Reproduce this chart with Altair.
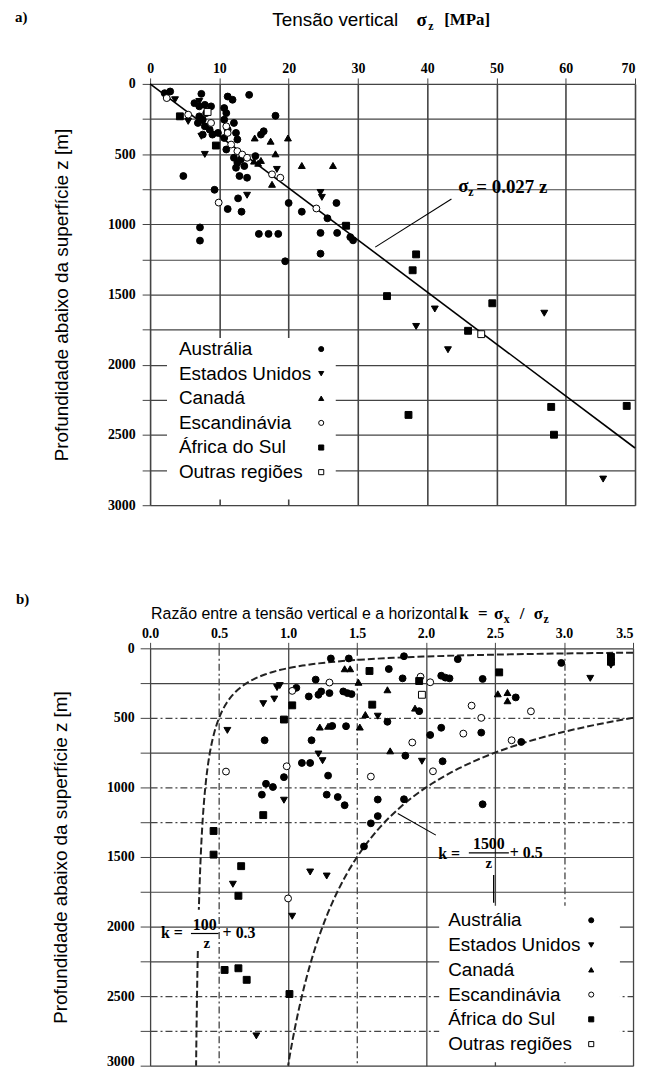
import numpy as np
import pandas as pd
import altair as alt

REGIONS = ["Austrália", "Estados Unidos", "Canadá", "Escandinávia", "África do Sul", "Outras regiões"]
SHAPES = ["circle", "triangle-down", "triangle-up", "circle", "square", "square"]
FILLS = ["black", "black", "black", "white", "black", "white"]

# ---------------- panel a: vertical stress sigma_z [MPa] vs depth z [m]
a_aus_s = [2.1, 2.9, 7.4, 11.2, 11.9, 14.3, 18.1, 6.4, 7.1, 7.9, 8.8, 8.1, 7.1, 7.6, 6.9, 7.9, 8.6,
           9.0, 7.6, 9.8, 10.7, 11.0, 10.7, 12.1, 11.2, 12.4, 10.7, 12.6, 11.0, 12.1, 13.1, 12.6, 12.4,
           13.6, 12.9, 14.0, 15.2, 16.4, 16.0, 4.8, 9.3, 12.7, 11.2, 13.2, 20.0, 21.9, 26.9, 25.6, 28.9,
           29.3, 24.6, 27.0, 15.7, 17.1, 18.5, 19.5, 24.6, 7.2, 7.2]
a_aus_z = [66, 54, 71, 90, 113, 78, 227, 137, 160, 149, 160, 208, 231, 255, 278, 302, 326,
           361, 361, 349, 172, 208, 255, 278, 326, 349, 385, 396, 467, 526, 538, 562, 597,
           585, 656, 668, 514, 337, 361, 656, 754, 815, 891, 910, 848, 910, 848, 957, 1091,
           1114, 1061, 1061, 1068, 1068, 1068, 1263, 1209, 1022, 1116]
a_us_s = [3.6, 7.1, 5.5, 7.4, 7.9, 18.3, 14.0, 24.6, 24.8, 28.2, 41.1, 56.9, 38.4, 43.0, 65.4]
a_us_z = [113, 125, 267, 373, 502, 609, 793, 773, 808, 1013, 1603, 1633, 1727, 1893, 2814]
a_ca_s = [15.1, 17.4, 19.9, 18.1, 15.0, 15.6, 16.0, 17.6, 21.9, 26.4]
a_ca_z = [385, 408, 385, 498, 550, 565, 545, 715, 581, 581]
a_sc_s = [2.4, 5.5, 8.8, 11.0, 11.2, 11.7, 12.6, 13.3, 14.0, 17.6, 18.8, 9.9, 24.0]
a_sc_z = [101, 219, 278, 302, 349, 432, 479, 503, 526, 644, 668, 845, 887]
a_sa_s = [4.3, 9.5, 28.3, 38.4, 37.9, 34.2, 49.4, 45.9, 37.3, 57.9, 58.3, 68.8]
a_sa_z = [231, 439, 1010, 1214, 1327, 1511, 1562, 1758, 2357, 2300, 2498, 2293]
a_ot_s = [8.3, 47.8]
a_ot_z = [200, 1782]
a_fit_coef = 0.027          # sigma_z = 0.027 z
a_fit_sigma = [0, 70]

# ---------------- panel b: k = sigma_x / sigma_z vs depth z [m]
b_aus_k = [1.31, 1.44, 1.84, 2.23, 2.98, 1.73, 1.83, 2.11, 2.14, 2.17, 2.41, 1.20, 1.06, 1.15, 1.22,
           1.24, 1.30, 1.40, 1.43, 1.46, 1.95, 1.72, 1.32, 1.42, 2.11, 2.03, 2.40, 2.65, 2.69, 0.83,
           1.17, 1.85, 2.12, 1.10, 1.16, 1.29, 0.97, 0.84, 0.89, 0.81, 1.28, 1.36, 1.41, 1.65, 1.84,
           1.65, 1.60, 1.55, 2.41]
b_aus_z = [73, 73, 57, 78, 105, 149, 216, 197, 211, 216, 220, 225, 284, 346, 334,
           310, 322, 310, 322, 329, 452, 528, 558, 560, 571, 623, 606, 353, 673, 661,
           661, 772, 812, 824, 824, 915, 926, 974, 997, 1052, 1052, 1069, 1128, 1087, 1085,
           1206, 1258, 1424, 1121]
b_us_k = [0.56, 0.82, 0.90, 0.92, 0.94, 1.22, 1.25, 0.97, 1.65, 1.97, 3.19, 3.34, 0.60, 1.03, 1.16, 1.28, 0.77]
b_us_z = [590, 398, 365, 282, 268, 760, 808, 1092, 488, 812, 216, 121, 1696, 1926, 1608, 1637, 2786]
b_ca_k = [1.41, 1.45, 1.51, 1.72, 1.56, 1.23, 1.29, 1.52, 1.74, 2.52, 2.59, 2.59, 1.92]
b_ca_z = [147, 147, 244, 298, 476, 566, 560, 566, 737, 327, 318, 377, 430]
b_sc_k = [1.30, 1.03, 0.55, 0.99, 1.96, 2.03, 1.90, 2.05, 1.60, 2.27, 2.40, 2.33, 2.76, 2.62, 1.00]
b_sc_z = [246, 306, 886, 848, 204, 244, 677, 884, 922, 613, 500, 412, 453, 661, 1798]
b_sa_k = [1.59, 1.95, 2.53, 1.03, 1.61, 0.97, 0.82, 0.46, 0.46, 0.66, 0.64, 0.54, 0.64, 0.70, 1.01, 3.34, 3.34]
b_sa_z = [163, 235, 173, 410, 405, 512, 1199, 1313, 1483, 1566, 1779, 2312, 2300, 2383, 2485, 62, 97]
b_ot_k = [1.97]
b_ot_z = [334]
b_lower = (100, 0.3)    # k = 100/z + 0.3
b_upper = (1500, 0.5)   # k = 1500/z + 0.5

# annotation anchors (data units)
a_note_pos = (44.5, 735)
a_leader = (32.5, 1162, 43.5, 820)
b_up_note = (2.455, 1471)
b_up_leader = (1.795, 1188, 2.071, 1343)
b_up_tick = (2.49, 1629, 2.49, 1829)
b_lo_note = (0.396, 2050)
b_lo_gap = (1879, 2176)
# legend placement (data units): text x, symbol x, first row z, row step z, box (x1, x2, z1, z2)
a_leg = (4.16, 24.7, 1888, 175.3, (2.44, 26.8, 1810, 2960))
b_leg = (2.16, 3.197, 1955, 178.0, (2.095, 3.405, 1850, 2975))

SERIF = "Liberation Serif"
SANS = "Liberation Sans"
GRID = "#444444"


def points(groups):
    rows = []
    for name, xs, zs in groups:
        rows += [{"x": x, "z": z, "region": name} for x, z in zip(xs, zs)]
    return pd.DataFrame(rows)


SHAPE_SCALE = alt.Scale(domain=REGIONS, range=SHAPES)
FILL_SCALE = alt.Scale(domain=REGIONS, range=FILLS)


def ptext(text, x, y, font, size, weight="normal", align="left", baseline="middle"):
    return alt.Chart(pd.DataFrame({"t": [text]})).mark_text(
        align=align, baseline=baseline, font=font, fontSize=size, fontWeight=weight, color="black"
    ).encode(x=alt.value(x), y=alt.value(y), text="t:N")


def dtext(XE, YE, text, x, z, dx, dy, size, weight="bold", align="left", font=SERIF):
    return alt.Chart(pd.DataFrame({"x": [x], "z": [z], "t": [text]})).mark_text(
        align=align, baseline="middle", dx=dx, dy=dy, font=font, fontSize=size,
        fontWeight=weight, color="black"
    ).encode(x=XE, y=YE, text="t:N")


def drule(XE, YE, seg, width=1.2):
    return alt.Chart(pd.DataFrame({"x": [seg[0]], "z": [seg[1]], "x2": [seg[2]], "z2": [seg[3]]})).mark_rule(
        color="black", strokeWidth=width
    ).encode(x=XE, y=YE, x2="x2:Q", y2="z2:Q")


def scatter(df, XE, YE, size=48):
    return alt.Chart(df).mark_point(filled=True, size=size, opacity=1, stroke="black", strokeWidth=1).encode(
        x=XE, y=YE,
        shape=alt.Shape("region:N", scale=SHAPE_SCALE, legend=None),
        fill=alt.Fill("region:N", scale=FILL_SCALE, legend=None),
    )


def legend_layers(XE, YE, spec):
    tx, sx, z0, dz, box = spec
    zs = [z0 + i * dz for i in range(len(REGIONS))]
    bg = alt.Chart(pd.DataFrame({"x": [box[0]], "x2": [box[1]], "z": [box[2]], "z2": [box[3]]})).mark_rect(
        fill="white").encode(x=XE, x2="x2:Q", y=YE, y2="z2:Q")
    labels = alt.Chart(pd.DataFrame({"x": [tx] * 6, "z": zs, "t": REGIONS})).mark_text(
        align="left", baseline="middle", font=SANS, fontSize=19, color="black").encode(x=XE, y=YE, text="t:N")
    syms = scatter(pd.DataFrame({"x": [sx] * 6, "z": zs, "region": REGIONS}), XE, YE, size=26)
    return [bg], [labels, syms]


def axis_common(**kw):
    base = dict(labelFont=SERIF, labelFontSize=14, labelFontWeight="bold", labelColor="black",
                labelFlush=False, labelOverlap=False, domain=False, tickColor=GRID, grid=True,
                gridColor=GRID, gridOpacity=1)
    base.update(kw)
    return alt.Axis(**base)


def last_right(v):
    return {"condition": {"test": f"datum.value == {v}", "value": "right"}, "value": "center"}


YTITLE = "Profundidade abaixo da superfície z [m]"

# ================= panel a =================
xa_axis = axis_common(orient="top", values=list(range(0, 71, 10)), title=None, gridWidth=1.6,
                      tickSize=6, labelPadding=2, labelAlign=last_right(70))
za_axis = axis_common(values=list(range(0, 3001, 250)), format="d",
                      labelExpr="datum.value % 500 == 0 ? datum.label : ''",
                      title=YTITLE, titleFont=SANS, titleFontSize=19, titleFontWeight="normal",
                      titleColor="black", titlePadding=36, gridWidth=1.2, tickSize=8, labelPadding=7)
XA = alt.X("x:Q", scale=alt.Scale(domain=[0, 70], nice=False, zero=False), axis=xa_axis)
ZA = alt.Y("z:Q", scale=alt.Scale(domain=[0, 3000], reverse=True, nice=False), axis=za_axis)

df_a = points([(REGIONS[0], a_aus_s, a_aus_z), (REGIONS[1], a_us_s, a_us_z), (REGIONS[2], a_ca_s, a_ca_z),
               (REGIONS[3], a_sc_s, a_sc_z), (REGIONS[4], a_sa_s, a_sa_z), (REGIONS[5], a_ot_s, a_ot_z)])
fit_a = pd.DataFrame({"x": a_fit_sigma, "z": [s / a_fit_coef for s in a_fit_sigma]})
line_a = alt.Chart(fit_a).mark_line(color="black", strokeWidth=1.6).encode(x=XA, y=ZA)

nx, nz = a_note_pos
leg_a_bg, leg_a_fg = legend_layers(XA, ZA, a_leg)
top = alt.layer(
    *leg_a_bg, line_a, drule(XA, ZA, a_leader, 1.1), scatter(df_a, XA, ZA), *leg_a_fg,
    dtext(XA, ZA, "σ", nx, nz, 0, -1, 19),
    dtext(XA, ZA, "z", nx, nz, 10, 5, 12),
    dtext(XA, ZA, "= 0.027 z", nx, nz, 18, 0, 19),
    ptext("a)", -136, -74, SERIF, 15, "bold", baseline="top"),
    ptext("Tensão vertical", 123, -64, SANS, 19),
    ptext("σ", 268, -64, SERIF, 19, "bold"),
    ptext("z", 280, -58, SERIF, 12, "bold"),
    ptext("[MPa]", 296, -64, SERIF, 17, "bold"),
).properties(width=488, height=424)

# ================= panel b =================
dash_x = "datum.value == 0.5 || datum.value == 1.5 || datum.value == 3"
dash_z = ("datum.value == 500 || datum.value == 1000 || datum.value == 1250 || "
          "datum.value == 2500 || datum.value == 2750")
xb_axis = axis_common(orient="top", values=[0, 0.5, 1, 1.5, 2, 2.5, 3, 3.5], format=".1f", title=None,
                      gridWidth=1.3,
                      gridDash={"condition": {"test": dash_x, "value": [7, 3, 2, 3]}, "value": []},
                      tickSize=6, labelPadding=2, labelAlign=last_right(3.5))
zb_axis = axis_common(values=list(range(0, 3001, 250)), format="d",
                      labelExpr="datum.value % 500 == 0 ? datum.label : ''",
                      labelBaseline={"condition": {"test": "datum.value == 3000", "value": "alphabetic"},
                                     "value": "middle"},
                      title=YTITLE, titleFont=SANS, titleFontSize=19, titleFontWeight="normal",
                      titleColor="black", titlePadding=36, gridWidth=1.2,
                      gridDash={"condition": {"test": dash_z, "value": [7, 3, 2, 3]}, "value": []},
                      tickSize=10, labelPadding=6)
XB = alt.X("x:Q", scale=alt.Scale(domain=[0, 3.5], nice=False, zero=False), axis=xb_axis)
ZB = alt.Y("z:Q", scale=alt.Scale(domain=[0, 3000], reverse=True, nice=False), axis=zb_axis)

df_b = points([(REGIONS[0], b_aus_k, b_aus_z), (REGIONS[1], b_us_k, b_us_z), (REGIONS[2], b_ca_k, b_ca_z),
               (REGIONS[3], b_sc_k, b_sc_z), (REGIONS[4], b_sa_k, b_sa_z), (REGIONS[5], b_ot_k, b_ot_z)])

# theoretical envelopes, evaluated from the equations printed on the chart
A1, B1 = b_lower
A2, B2 = b_upper
z_lo = np.concatenate([np.geomspace(A1 / (3.5 - B1), b_lo_gap[0], 90), np.linspace(b_lo_gap[1], 3000, 12)])
seg_lo = ["s1"] * 90 + ["s2"] * 12
cur_lo = pd.DataFrame({"x": A1 / z_lo + B1, "z": z_lo, "seg": seg_lo})
z_up = np.geomspace(A2 / (3.5 - B2), 3000, 60)
cur_up = pd.DataFrame({"x": A2 / z_up + B2, "z": z_up, "seg": "u"})
curves = alt.Chart(pd.concat([cur_lo, cur_up])).mark_line(
    color="#222", strokeWidth=2, strokeDash=[7, 3]).encode(x=XB, y=ZB, detail="seg:N", order="z:Q")

ux, uz = b_up_note
lx, lz = b_lo_note
leg_b_bg, leg_b_fg = legend_layers(XB, ZB, b_leg)
bottom = alt.layer(
    *leg_b_bg, curves, scatter(df_b, XB, ZB), *leg_b_fg,
    drule(XB, ZB, b_up_leader, 1.1), drule(XB, ZB, b_up_tick, 1.3),
    drule(XB, ZB, (ux - 0.145, uz, ux + 0.145, uz), 1.2),
    dtext(XB, ZB, "k =", ux, uz, -29, 1, 16, align="right"),
    dtext(XB, ZB, "1500", ux, uz, 0, -9, 16, align="center"),
    dtext(XB, ZB, "z", ux, uz, 0, 10, 15, align="center"),
    dtext(XB, ZB, "+ 0.5", ux, uz, 21, 0, 16),
    drule(XB, ZB, (lx - 0.1, lz, lx + 0.1, lz), 1.2),
    dtext(XB, ZB, "k =", lx, lz, -22, 0, 16, align="right"),
    dtext(XB, ZB, "100", lx, lz, 0, -9, 16, align="center"),
    dtext(XB, ZB, "z", lx, lz, 2, 10, 15, align="center"),
    dtext(XB, ZB, "+ 0.3", lx, lz, 18, 0, 16),
    ptext("b)", -135, -57, SERIF, 15, "bold", baseline="top"),
    ptext("Razão entre a tensão vertical e a horizontal", 1, -34, SANS, 16),
    ptext("k", 311, -34, SERIF, 17, "bold"),
    ptext("=", 330, -34, SERIF, 17, "bold"),
    ptext("σ", 346, -34, SERIF, 17, "bold"),
    ptext("x", 356, -29, SERIF, 12, "bold"),
    ptext("/", 372, -34, SERIF, 17, "bold"),
    ptext("σ", 386, -34, SERIF, 17, "bold"),
    ptext("z", 396, -29, SERIF, 12, "bold"),
).properties(width=486, height=420)

chart = alt.vconcat(top, bottom, spacing=144, bounds="flush").resolve_scale(
    shape="independent", fill="independent"
).properties(
    padding={"left": 6, "top": -2, "right": -1, "bottom": -2}
).configure_view(stroke="black", strokeWidth=1.5).configure(background="white")

chart.save("out.html", embed_options={"renderer": "svg", "actions": False})
